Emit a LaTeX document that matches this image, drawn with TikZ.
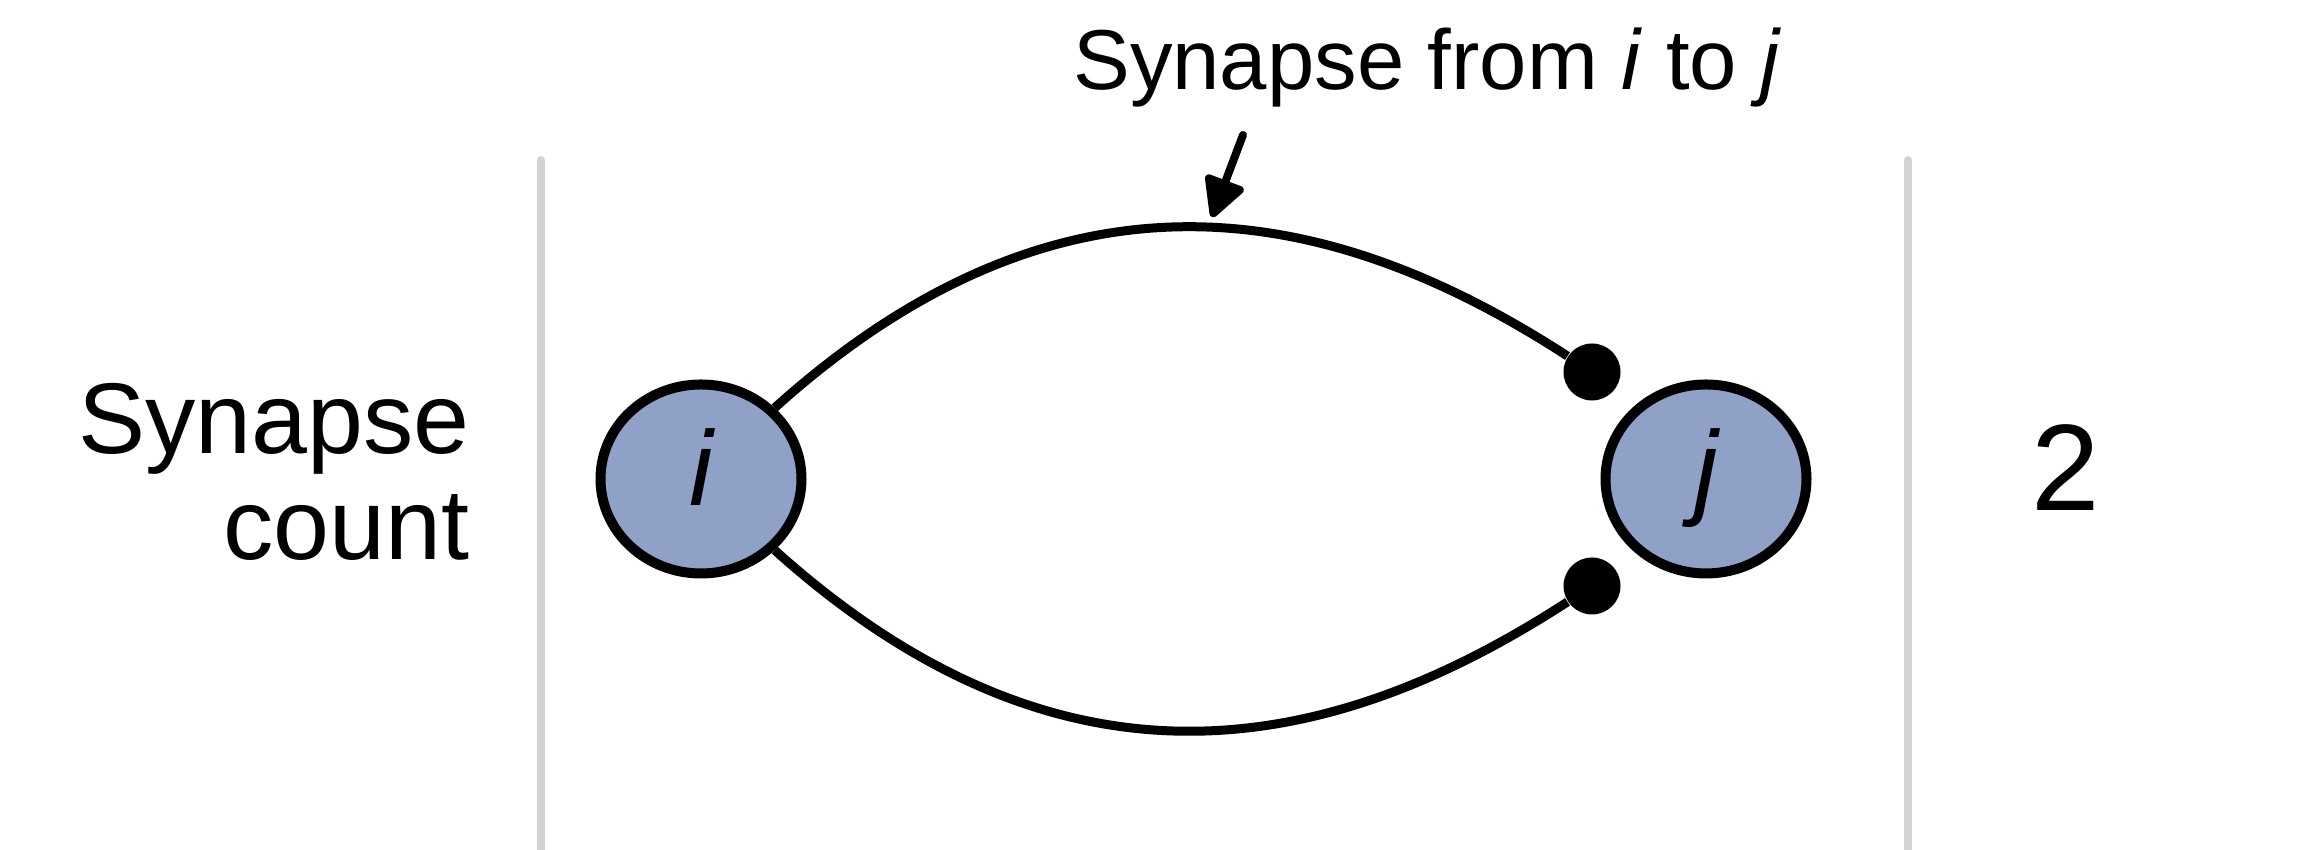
\documentclass[tikz,border=0pt]{standalone}
\usepackage{fontspec}
\setmainfont{Liberation Sans}
\usetikzlibrary{shapes.geometric,arrows.meta}
\definecolor{nodefill}{RGB}{143,161,198}
\definecolor{sepgray}{RGB}{211,211,211}
\tikzset{
  neuron/.style={ellipse, draw=black, line width=0.1cm, fill=nodefill,
    minimum width=2.01cm, minimum height=1.89cm, inner sep=0pt,
    text height=0.76cm, text depth=0.23cm,
    font=\fontsize{30.2}{36}\selectfont\itshape},
  syndot/.style={circle, fill=black, minimum size=0.57cm, inner sep=0pt},
  axon/.style={line width=0.09cm, line cap=butt},
  sepline/.style={draw=sepgray, line width=0.08cm, line cap=round},
  pointer/.style={line width=0.08cm, line cap=round,
    -{Triangle[length=0.44cm, width=0.44cm, round]}},
  txt/.style={inner sep=0pt, anchor=base}
}
\begin{document}
\begin{tikzpicture}
\useasboundingbox (0,0) rectangle (23.2,8.5);
% separators
\coordinate (s1t) at (5.41,6.90);
\coordinate (s1b) at (5.41,-0.2);
\coordinate (s2t) at (19.08,6.90);
\coordinate (s2b) at (19.08,-0.2);
\draw[sepline] (s1t) -- (s1b);
\draw[sepline] (s2t) -- (s2b);
% texts
\node[txt, font=\fontsize{24.2}{29}\selectfont] (lbl) at (14.275,7.60)
  {Synapse from \textit{i} to \textit{j}};
\node[txt, anchor=base east, font=\fontsize{28.6}{34}\selectfont] (cnt1) at (4.70,3.96) {Synapse};
\node[txt, anchor=base east, font=\fontsize{28.6}{34}\selectfont] (cnt2) at (4.70,2.90) {count};
\node[txt, font=\fontsize{35}{42}\selectfont] (num) at (20.66,3.39) {2};
% neurons
\node[neuron] (i) at (7.01,3.71) {i};
\node[neuron] (j) at (17.06,3.71) {j};
% synapse dots
\node[syndot] (d1) at (15.92,4.78) {};
\node[syndot] (d2) at (15.92,2.64) {};
% connections
\draw[axon] (i.44) .. controls (10.59,6.98) and (13.24,6.52) .. (d1);
\draw[axon] (i.-44) .. controls (10.59,0.44) and (13.24,0.90) .. (d2);
% pointer arrow
\coordinate (as) at (12.43,7.15);
\coordinate (ae) at (12.12,6.33);
\draw[pointer] (as) -- (ae);
\end{tikzpicture}
\end{document}
